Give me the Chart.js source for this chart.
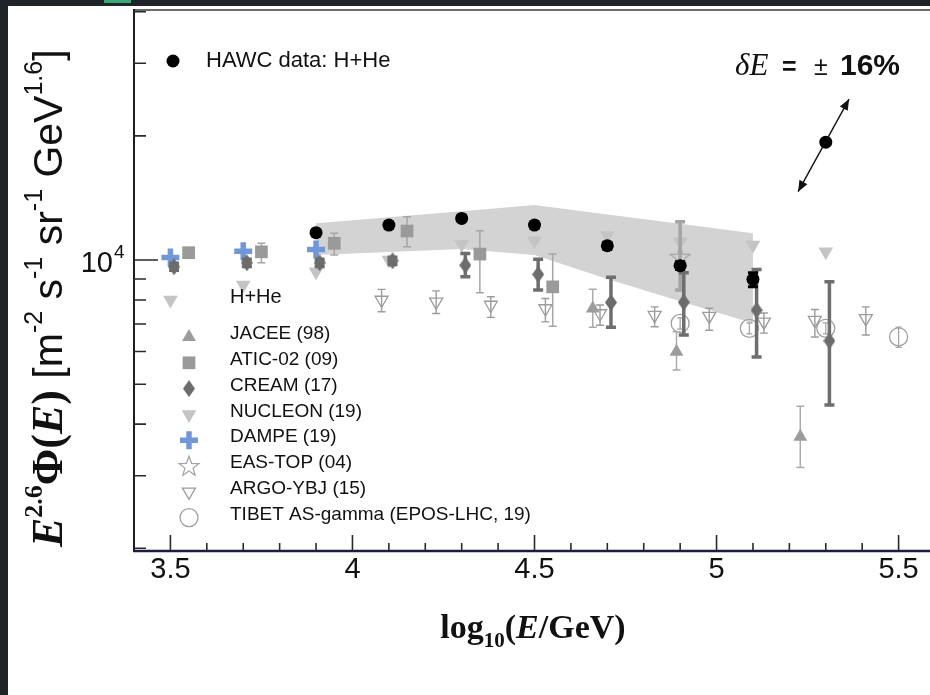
<!DOCTYPE html>
<html>
<head>
<meta charset="utf-8">
<script src="https://cdn.jsdelivr.net/npm/chart.js@4.4.1/dist/chart.umd.min.js"></script>
<style>
  html, body { margin: 0; padding: 0; width: 930px; height: 695px; overflow: hidden; background: #fff; }
  .strip { position: absolute; background: #1f2429; }
  #tab { position: absolute; left: 104px; top: 0; width: 27px; height: 3px; background: #3aa876; }
  #sheet { position: absolute; left: 8px; top: 6px; width: 922px; height: 689px; overflow: hidden; background: #fff; }
  canvas { display: block; }
</style>
</head>
<body>
<div class="strip" style="left:0;top:0;width:930px;height:6px"></div>
<div class="strip" style="left:0;top:0;width:8px;height:695px"></div>
<div id="tab"></div>
<div id="sheet"><canvas id="spectrum" width="927" height="689"></canvas></div>
<script>
// x = log10(E/GeV), y = E^2.6 * flux  [m^-2 s^-1 sr^-1 GeV^1.6]

// HAWC H+He
const hawcX  = [3.9, 4.1, 4.3, 4.5, 4.7, 4.9, 5.1];
const hawcY  = [11650, 12160, 12620, 12160, 10830, 9690, 8980];
const hawcLo = [11450, 11950, 12400, 11950, 10620, 9480, 8610];
const hawcHi = [11850, 12370, 12840, 12370, 11040, 9900, 9320];
// HAWC systematic band
const bandHi = [12280, 12700, 13140, 13600, 12900, 12240, 11610];
const bandLo = [10280, 10460, 10630, 10280, 8990, 7950, 7030];

const jaceeX  = [4.66, 4.89, 5.23];
const jaceeY  = [7630, 5990, 3730];
const jaceeLo = [6870, 5410, 3140];
const jaceeHi = [8490, 6700, 4420];

const aticX  = [3.55, 3.75, 3.95, 4.15, 4.35, 4.55];
const aticY  = [10420, 10470, 10980, 11760, 10340, 8610];
const aticLo = [10250, 9850, 10280, 10770, 8330, 6910];
const aticHi = [10600, 10980, 11610, 12740, 11780, 10340];

const creamX  = [3.51, 3.71, 3.91, 4.11, 4.31, 4.51, 4.71, 4.91, 5.11, 5.31];
const creamY  = [9630, 9850, 9850, 9960, 9720, 9230, 7890, 7900, 7560, 6370];
const creamLo = [9450, 9650, 9650, 9760, 9110, 8460, 6870, 6580, 5820, 4450];
const creamHi = [9820, 10050, 10050, 10160, 10380, 10040, 9080, 9320, 9490, 8860];

const nucleonX = [3.5, 3.7, 3.9, 4.1, 4.3, 4.5, 4.7, 4.9, 5.1, 5.3];
const nucleonY = [8000, 8700, 9370, 10000, 10920, 11140, 11470, 11070, 10870, 10470];

const dampeX = [3.5, 3.7, 3.9];
const dampeY = [10150, 10500, 10600];

const easX  = [4.9];
const easY  = [10190];
const easLo = [8460];
const easHi = [12390];

const argoX  = [4.08, 4.23, 4.38, 4.53, 4.68, 4.83, 4.98, 5.13, 5.27, 5.41];
const argoY  = [8000, 7920, 7780, 7630, 7420, 7350, 7310, 7080, 7150, 7220];
const argoLo = [7490, 7420, 7260, 7080, 6950, 6890, 6760, 6650, 6510, 6580];
const argoHi = [8490, 8420, 8150, 8070, 7780, 7700, 7640, 7440, 7590, 7700];

const tibetX  = [4.9, 5.09, 5.3, 5.5];
const tibetY  = [7020, 6830, 6830, 6510];
const tibetLo = [6800, 6620, 6620, 6140];
const tibetHi = [7240, 7040, 7040, 6880];

// energy-scale example point and its +-16% shift
const deltaX = [5.3];
const deltaY = [19310];
const shiftLow  = [5.224, 14650];
const shiftHigh = [5.364, 24570];

// axis ticks
const xMajor = [3.5, 4, 4.5, 5, 5.5];
const xMajorText = ['3.5', '4', '4.5', '5', '5.5'];
const xMinor = [3.6, 3.7, 3.8, 3.9, 4.1, 4.2, 4.3, 4.4, 4.6, 4.7, 4.8, 4.9, 5.1, 5.2, 5.3, 5.4];
const yMajor = [10000];
const yMinor = [2000, 3000, 4000, 5000, 6000, 7000, 8000, 9000, 20000, 30000, 40000];

const SANS = '"Liberation Sans", Arial, sans-serif';
const SERIF = '"Liberation Serif", "Times New Roman", serif';

function pts(xs, ys, lo, hi) {
  return xs.map((x, i) => ({ x: x, y: ys[i], lo: lo ? lo[i] : null, hi: hi ? hi[i] : null }));
}

function shape(w, h, paint) {
  const c = document.createElement('canvas');
  c.width = w; c.height = h;
  paint(c.getContext('2d'), w, h);
  return c;
}

const diamond = shape(12, 17, (g, w, h) => {
  g.fillStyle = '#6c6c6c';
  g.beginPath();
  g.moveTo(w / 2, 0); g.lineTo(w, h / 2); g.lineTo(w / 2, h); g.lineTo(0, h / 2);
  g.closePath(); g.fill();
});

const openStar = shape(24, 24, (g) => {
  g.strokeStyle = '#a2a2a2';
  g.lineWidth = 1.2;
  g.beginPath();
  for (let k = 0; k < 10; k++) {
    const r = k % 2 ? 4.3 : 10.5;
    const a = -Math.PI / 2 + k * Math.PI / 5;
    g.lineTo(12 + r * Math.cos(a), 12.8 + r * Math.sin(a));
  }
  g.closePath(); g.stroke();
});

const datasets = [
  { label: 'band hi', type: 'line', data: pts(hawcX, bandHi), fill: '+1', backgroundColor: '#d3d3d3',
    borderWidth: 0, pointRadius: 0, tension: 0, order: 20 },
  { label: 'band lo', type: 'line', data: pts(hawcX, bandLo), fill: false, borderWidth: 0,
    pointRadius: 0, tension: 0, order: 21 },
  { label: 'NUCLEON (19)', data: pts(nucleonX, nucleonY), pointStyle: 'triangle', pointRotation: 180,
    pointRadius: 8.5, pointBackgroundColor: '#c4c4c4', pointBorderWidth: 0, order: 9 },
  { label: 'TIBET AS-gamma (EPOS-LHC, 19)', data: pts(tibetX, tibetY, tibetLo, tibetHi), pointStyle: 'circle',
    pointRadius: 9, pointBackgroundColor: 'rgba(0,0,0,0)', pointBorderColor: '#a0a0a0', pointBorderWidth: 1.3,
    err: { color: '#a0a0a0', width: 1.2, cap: 3 }, order: 8 },
  { label: 'ARGO-YBJ (15)', data: pts(argoX, argoY, argoLo, argoHi), pointStyle: 'triangle', pointRotation: 180,
    pointRadius: 7.5, pointBackgroundColor: 'rgba(0,0,0,0)', pointBorderColor: '#9c9c9c', pointBorderWidth: 1.3,
    err: { color: '#9c9c9c', width: 1.4, cap: 4 }, order: 7 },
  { label: 'EAS-TOP (04)', data: pts(easX, easY, easLo, easHi), pointStyle: openStar, pointRadius: 10,
    err: { color: '#a4a4a4', width: 3.5, cap: 5 }, order: 6 },
  { label: 'JACEE (98)', data: pts(jaceeX, jaceeY, jaceeLo, jaceeHi), pointStyle: 'triangle',
    pointRadius: 8, pointBackgroundColor: '#9c9c9c', pointBorderWidth: 0,
    err: { color: '#ababab', width: 1.5, cap: 4 }, order: 5 },
  { label: 'ATIC-02 (09)', data: pts(aticX, aticY, aticLo, aticHi), pointStyle: 'rect',
    pointRadius: 9, pointBackgroundColor: '#9a9a9a', pointBorderWidth: 0,
    err: { color: '#a6a6a6', width: 1.5, cap: 4 }, order: 4 },
  { label: 'DAMPE (19)', data: pts(dampeX, dampeY), pointStyle: 'cross', pointRadius: 9,
    pointBorderColor: '#7197d8', pointBorderWidth: 5.5, order: 3 },
  { label: 'CREAM (17)', data: pts(creamX, creamY, creamLo, creamHi), pointStyle: diamond, pointRadius: 9,
    err: { color: '#6e6e6e', width: 3.5, cap: 5 }, order: 2 },
  { label: 'HAWC data: H+He', data: pts(hawcX, hawcY, hawcLo, hawcHi), pointStyle: 'circle',
    pointRadius: 6.5, pointBackgroundColor: '#000', pointBorderWidth: 0,
    err: { color: '#000', width: 3, cap: 5 }, order: 1 },
  { label: 'energy scale', data: pts(deltaX, deltaY), pointStyle: 'circle',
    pointRadius: 6.5, pointBackgroundColor: '#000', pointBorderWidth: 0, order: 0 }
];

const legendRows = ['JACEE (98)', 'ATIC-02 (09)', 'CREAM (17)', 'NUCLEON (19)', 'DAMPE (19)',
  'EAS-TOP (04)', 'ARGO-YBJ (15)', 'TIBET AS-gamma (EPOS-LHC, 19)'];

// error bars go under each dataset's own markers
const errorBars = {
  id: 'errorBars',
  beforeDatasetDraw(chart, args) {
    const ds = chart.data.datasets[args.index];
    if (!ds.err) return;
    const ctx = chart.ctx, xs = chart.scales.x, ys = chart.scales.y;
    ctx.save();
    ctx.strokeStyle = ds.err.color;
    ctx.lineWidth = ds.err.width;
    ds.data.forEach((p) => {
      if (p.lo == null) return;
      const px = xs.getPixelForValue(p.x);
      const top = ys.getPixelForValue(p.hi), bot = ys.getPixelForValue(p.lo);
      const c = ds.err.cap;
      ctx.beginPath();
      ctx.moveTo(px, top); ctx.lineTo(px, bot);
      ctx.moveTo(px - c, top); ctx.lineTo(px + c, top);
      ctx.moveTo(px - c, bot); ctx.lineTo(px + c, bot);
      ctx.stroke();
    });
    ctx.restore();
  }
};

function marker(ctx, ds, x, y) {
  const style = ds.pointStyle;
  ctx.save();
  if (style instanceof HTMLCanvasElement) {
    ctx.drawImage(style, x - style.width / 2, y - style.height / 2);
  } else {
    ctx.fillStyle = ds.pointBackgroundColor || 'rgba(0,0,0,0)';
    ctx.strokeStyle = ds.pointBorderColor || 'rgba(0,0,0,0)';
    ctx.lineWidth = ds.pointBorderWidth || 0;
    Chart.helpers.drawPoint(ctx, {
      pointStyle: style, rotation: ds.pointRotation || 0,
      radius: ds.pointRadius, borderWidth: ds.pointBorderWidth || 0
    }, x, y);
  }
  ctx.restore();
}

function rich(ctx, parts, x, y) {
  let cx = x;
  parts.forEach(([txt, font, dy]) => {
    ctx.font = font;
    ctx.fillText(txt, cx, y + dy);
    cx += ctx.measureText(txt).width;
  });
  return cx - x;
}

function richWidth(ctx, parts) {
  let w = 0;
  parts.forEach(([txt, font]) => { ctx.font = font; w += ctx.measureText(txt).width; });
  return w;
}

function arrowHead(ctx, x0, y0, x1, y1) {
  const a = Math.atan2(y1 - y0, x1 - x0), L = 11, W = 4.5;
  ctx.beginPath();
  ctx.moveTo(x1, y1);
  ctx.lineTo(x1 - L * Math.cos(a) + W * Math.sin(a), y1 - L * Math.sin(a) - W * Math.cos(a));
  ctx.lineTo(x1 - L * Math.cos(a) - W * Math.sin(a), y1 - L * Math.sin(a) + W * Math.cos(a));
  ctx.closePath();
  ctx.fill();
}

const frame = {
  id: 'frame',
  afterDatasetsDraw(chart) {
    const ctx = chart.ctx, a = chart.chartArea, xs = chart.scales.x, ys = chart.scales.y;
    ctx.save();

    // box
    ctx.strokeStyle = '#3a3a3a'; ctx.lineWidth = 1.5;
    ctx.beginPath(); ctx.moveTo(a.left, a.top); ctx.lineTo(a.right, a.top); ctx.stroke();
    ctx.strokeStyle = '#1e1e24'; ctx.lineWidth = 2;
    ctx.beginPath(); ctx.moveTo(a.left, a.top - 1); ctx.lineTo(a.left, a.bottom); ctx.stroke();
    ctx.strokeStyle = '#1c1c40'; ctx.lineWidth = 2.5;
    ctx.beginPath(); ctx.moveTo(a.left - 1, a.bottom); ctx.lineTo(a.right, a.bottom); ctx.stroke();

    // inward ticks
    ctx.strokeStyle = '#2a2a2a'; ctx.lineWidth = 1.6;
    ctx.beginPath();
    xMajor.forEach(v => { const p = xs.getPixelForValue(v); ctx.moveTo(p, a.bottom); ctx.lineTo(p, a.bottom - 16); });
    xMinor.forEach(v => { const p = xs.getPixelForValue(v); ctx.moveTo(p, a.bottom); ctx.lineTo(p, a.bottom - 8); });
    yMajor.forEach(v => { const p = ys.getPixelForValue(v); ctx.moveTo(a.left, p); ctx.lineTo(a.left + 24, p); });
    yMinor.forEach(v => { const p = ys.getPixelForValue(v); ctx.moveTo(a.left, p); ctx.lineTo(a.left + 12, p); });
    ctx.stroke();

    // tick labels
    ctx.fillStyle = '#111';
    ctx.font = '29px ' + SANS;
    ctx.textAlign = 'center'; ctx.textBaseline = 'middle';
    xMajor.forEach((v, i) => ctx.fillText(xMajorText[i], xs.getPixelForValue(v), a.bottom + 19));
    const y4 = ys.getPixelForValue(10000);
    ctx.textAlign = 'right';
    ctx.fillText('10', 105, y4 + 4);
    ctx.textAlign = 'left';
    ctx.font = '19px ' + SANS;
    ctx.fillText('4', 106, y4 - 7);

    // x title
    ctx.textAlign = 'left'; ctx.textBaseline = 'alphabetic';
    const xt = [
      ['log', 'bold 34px ' + SERIF, 0],
      ['10', 'bold 21px ' + SERIF, 9],
      ['(', 'bold 34px ' + SERIF, 0],
      ['E', 'bold italic 34px ' + SERIF, 0],
      ['/GeV)', 'bold 34px ' + SERIF, 0]
    ];
    rich(ctx, xt, 525 - richWidth(ctx, xt) / 2, 632);

    // y title, rotated
    ctx.save();
    ctx.translate(54, 541);
    ctx.rotate(-Math.PI / 2);
    rich(ctx, [
      ['E', 'bold italic 44px ' + SERIF, 0],
      ['2.6', 'bold 26px ' + SERIF, -20],
      ['Φ', 'bold 44px ' + SERIF, 0],
      ['(', 'bold 44px ' + SERIF, 0],
      ['E', 'bold italic 44px ' + SERIF, 0],
      [')', 'bold 44px ' + SERIF, 0],
      [' [m', '41px ' + SANS, 0],
      ['-2', '25px ' + SANS, -20],
      [' s', '41px ' + SANS, 0],
      ['-1', '25px ' + SANS, -20],
      [' sr', '41px ' + SANS, 0],
      ['-1', '25px ' + SANS, -20],
      [' GeV', '41px ' + SANS, 0],
      ['1.6', '25px ' + SANS, -20],
      [']', '41px ' + SANS, 0]
    ], 0, 0);
    ctx.restore();

    // legend
    const byLabel = {};
    chart.data.datasets.forEach(d => { byLabel[d.label] = d; });
    ctx.fillStyle = '#111';
    ctx.textBaseline = 'middle';
    marker(ctx, byLabel['HAWC data: H+He'], 165, 55);
    ctx.font = '22px ' + SANS;
    ctx.fillText('HAWC data: H+He', 198, 55);
    ctx.font = '20px ' + SANS;
    ctx.fillText('H+He', 222, 291);
    legendRows.forEach((lab, i) => {
      const ty = 328 + i * 25.8;
      marker(ctx, byLabel[lab], 181, ty + 3);
      ctx.fillStyle = '#111';
      ctx.font = '19px ' + SANS;
      ctx.textBaseline = 'middle';
      ctx.fillText(lab, 222, ty);
    });

    // energy-scale arrow
    const ax0 = xs.getPixelForValue(shiftLow[0]), ay0 = ys.getPixelForValue(shiftLow[1]);
    const ax1 = xs.getPixelForValue(shiftHigh[0]), ay1 = ys.getPixelForValue(shiftHigh[1]);
    ctx.strokeStyle = '#111'; ctx.fillStyle = '#111'; ctx.lineWidth = 1.4;
    ctx.beginPath(); ctx.moveTo(ax0, ay0); ctx.lineTo(ax1, ay1); ctx.stroke();
    arrowHead(ctx, ax1, ay1, ax0, ay0);
    arrowHead(ctx, ax0, ay0, ax1, ay1);

    ctx.textBaseline = 'alphabetic';
    ctx.font = 'italic 31px ' + SERIF;
    ctx.fillText('δE', 727, 69);
    ctx.font = 'bold 25px ' + SANS;
    ctx.fillText('=', 774, 69);
    ctx.font = '25px ' + SANS;
    ctx.fillText('±', 806, 69);
    ctx.font = 'bold 30px ' + SANS;
    ctx.fillText('16%', 832, 69);

    ctx.restore();
  }
};

new Chart(document.getElementById('spectrum'), {
  type: 'scatter',
  data: { datasets: datasets },
  options: {
    responsive: false,
    animation: false,
    layout: { autoPadding: false, padding: { left: 126, top: 4, right: 0, bottom: 144 } },
    scales: {
      x: { type: 'linear', min: 3.4, max: 5.6, display: false },
      y: { type: 'logarithmic', min: 1970, max: 40400, display: false }
    },
    plugins: { legend: { display: false }, tooltip: { enabled: false } }
  },
  plugins: [errorBars, frame]
});
</script>
</body>
</html>
